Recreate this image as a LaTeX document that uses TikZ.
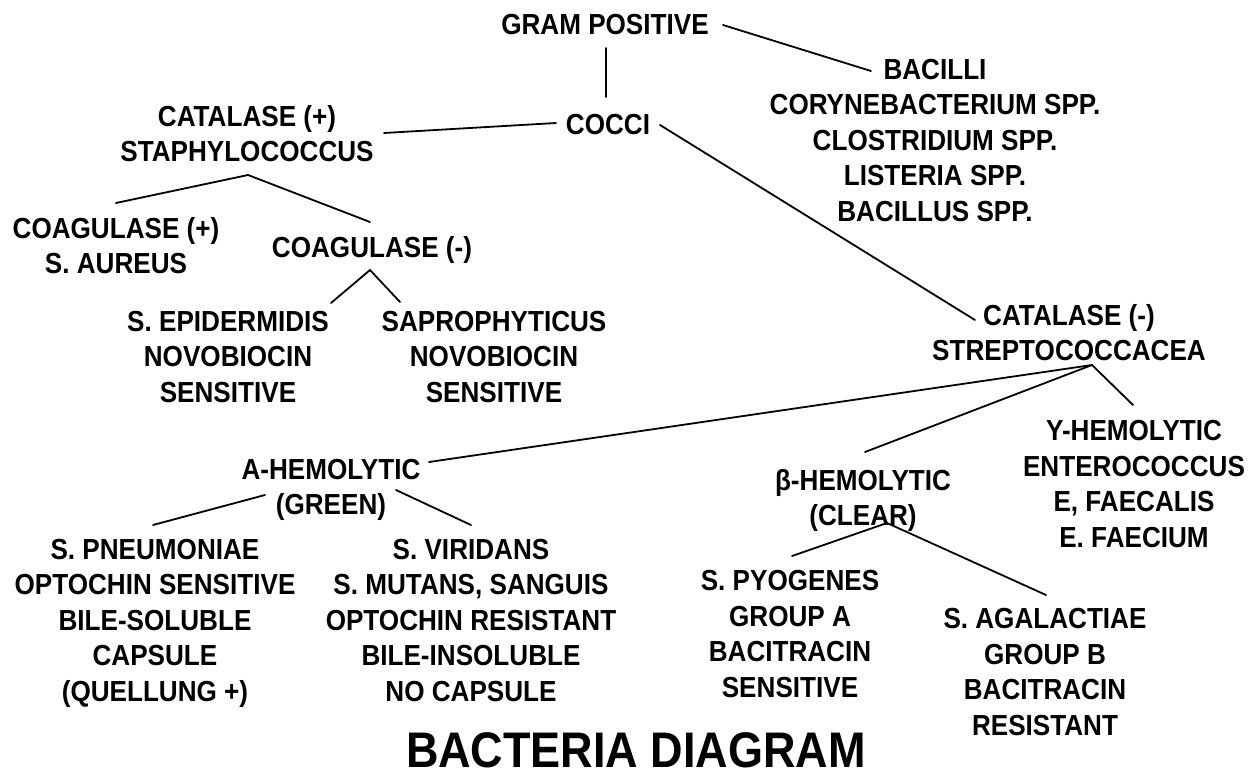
\documentclass[tikz,border=0pt]{standalone}
\usepackage{fontspec}
\setmainfont{Liberation Sans}[FakeStretch=0.9]
\begin{document}
\begin{tikzpicture}[x=1pt,y=-1pt,
  lab/.style={align=center,inner sep=0pt,anchor=base,
    font=\bfseries\fontsize{29}{35.5}\selectfont},
  ttl/.style={inner sep=0pt,anchor=base,font=\bfseries\fontsize{50}{60}\selectfont},
  conn/.style={line width=1.8pt,line cap=round}]
\useasboundingbox (0,0) rectangle (1250,771);
% nodes (anchored at the baseline of their last line)
\node[lab] (gp) at (605,34) {GRAM POSITIVE};
\node[lab] (bac) at (935,221) {BACILLI\\CORYNEBACTERIUM SPP.\\CLOSTRIDIUM SPP.\\LISTERIA SPP.\\BACILLUS SPP.};
\node[lab] (cocci) at (608,134) {COCCI};
\node[lab] (catp) at (247,161.5) {CATALASE (+)\\STAPHYLOCOCCUS};
\node[lab] (coagp) at (116,273.5) {COAGULASE (+)\\S. AUREUS};
\node[lab] (coagm) at (372,257) {COAGULASE (-)};
\node[lab] (sepi) at (228,402) {S. EPIDERMIDIS\\NOVOBIOCIN\\SENSITIVE};
\node[lab] (sapro) at (494,402) {SAPROPHYTICUS\\NOVOBIOCIN\\SENSITIVE};
\node[lab] (catm) at (1069,360.5) {CATALASE (-)\\STREPTOCOCCACEA};
\node[lab] (ahemo) at (331,514.5) {A-HEMOLYTIC\\(GREEN)};
\node[lab] (bhemo) at (863,525.5) {β-HEMOLYTIC\\(CLEAR)};
\node[lab] (yhemo) at (1134,547) {Y-HEMOLYTIC\\ENTEROCOCCUS\\E, FAECALIS\\E. FAECIUM};
\node[lab] (pneu) at (155,701) {S. PNEUMONIAE\\OPTOCHIN SENSITIVE\\BILE-SOLUBLE\\CAPSULE\\(QUELLUNG +)};
\node[lab] (viri) at (471,701) {S. VIRIDANS\\S. MUTANS, SANGUIS\\OPTOCHIN RESISTANT\\BILE-INSOLUBLE\\NO CAPSULE};
\node[lab] (pyo) at (790,697) {S. PYOGENES\\GROUP A\\BACITRACIN\\SENSITIVE};
\node[lab] (agal) at (1045,735) {S. AGALACTIAE\\GROUP B\\BACITRACIN\\RESISTANT};
\node[ttl] (title) at (636,767) {BACTERIA DIAGRAM};
% connector end points
\coordinate (gp-r) at (723,25);
\coordinate (bac-in) at (871,71);
\coordinate (gp-b) at (606,48);
\coordinate (cocci-t) at (606,97);
\coordinate (cocci-l) at (556,123);
\coordinate (catp-in) at (384,133);
\coordinate (cocci-r) at (660,125);
\coordinate (catm-in) at (975,320);
\coordinate (catp-out) at (248,175);
\coordinate (coagp-in) at (116,203);
\coordinate (coagm-in) at (370,222);
\coordinate (coagm-out) at (370,270);
\coordinate (sepi-in) at (331,303);
\coordinate (sapro-in) at (400,302);
\coordinate (catm-out) at (1092,365);
\coordinate (ahemo-in) at (429,462);
\coordinate (bhemo-in) at (865,452);
\coordinate (yhemo-in) at (1133,405);
\coordinate (ahemo-l) at (265,495);
\coordinate (pneu-in) at (153,525);
\coordinate (ahemo-r) at (396,490);
\coordinate (viri-in) at (471,525);
\coordinate (bhemo-out) at (887,523);
\coordinate (pyo-in) at (792,556);
\coordinate (agal-in) at (1046,595);
% connectors
\draw[conn] (gp-r) -- (bac-in);
\draw[conn] (gp-b) -- (cocci-t);
\draw[conn] (cocci-l) -- (catp-in);
\draw[conn] (cocci-r) -- (catm-in);
\draw[conn] (catp-out) -- (coagp-in);
\draw[conn] (catp-out) -- (coagm-in);
\draw[conn] (coagm-out) -- (sepi-in);
\draw[conn] (coagm-out) -- (sapro-in);
\draw[conn] (catm-out) -- (ahemo-in);
\draw[conn] (catm-out) -- (bhemo-in);
\draw[conn] (catm-out) -- (yhemo-in);
\draw[conn] (ahemo-l) -- (pneu-in);
\draw[conn] (ahemo-r) -- (viri-in);
\draw[conn] (bhemo-out) -- (pyo-in);
\draw[conn] (bhemo-out) -- (agal-in);
\end{tikzpicture}
\end{document}
